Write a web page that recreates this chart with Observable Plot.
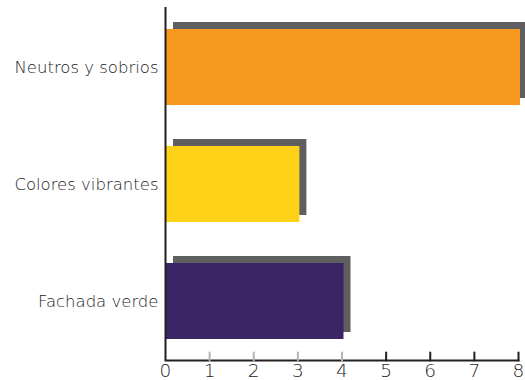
<!DOCTYPE html>
<html>
<head>
<meta charset="utf-8">
<script src="https://cdn.jsdelivr.net/npm/d3@7"></script>
<script src="https://cdn.jsdelivr.net/npm/@observablehq/plot@0.6"></script>
<style>
  html, body { margin: 0; padding: 0; background: #fff; }
</style>
</head>
<body>
<div id="chart"></div>
<script>
const categories = ["Neutros y sobrios", "Colores vibrantes", "Fachada verde"];
const values = [8, 3, 4];
const colors = ["#F7991F", "#FDD116", "#3B2566"];
const xTicks = [0, 1, 2, 3, 4, 5, 6, 7, 8];

const data = categories.map((c, i) => ({category: c, value: values[i], color: colors[i]}));
const tickMarks = xTicks.filter(d => d > 0);
const lineShape = {draw(context, l) { context.moveTo(0, 0); context.lineTo(0, -l); }};

const chart = Plot.plot({
  width: 525,
  height: 380,
  marginLeft: 165,
  marginRight: 7,
  marginTop: 7,
  marginBottom: 20,
  style: {fontFamily: "'DejaVu Sans', sans-serif", fontWeight: 200, background: "#fff"},
  x: {domain: [0, 8], axis: null},
  y: {domain: categories, paddingInner: 0.353, paddingOuter: 0.18, axis: null},
  color: {type: "identity"},
  marks: [
    Plot.barX(data, {x: "value", y: "category", fill: "#5F5E60", insetLeft: 1, insetRight: -2, dx: 7, dy: -7}),
    Plot.barX(data, {x: "value", y: "category", fill: "color", insetLeft: 1, insetRight: -2}),
    Plot.ruleX([0], {stroke: "#231F20", strokeWidth: 2}),
    Plot.frame({anchor: "bottom", stroke: "#231F20", strokeWidth: 2}),
    Plot.vector(tickMarks, {x: d => d, frameAnchor: "bottom", length: 8, rotate: 0, anchor: "start",
      shape: lineShape, stroke: d => d <= 4 ? "#B5B5B5" : "#231F20", strokeWidth: 2}),
    Plot.text(xTicks, {x: d => d, frameAnchor: "bottom", dy: 11, lineAnchor: "middle", text: d => String(d),
      fontSize: 18.5, fill: "#222222"}),
    Plot.axisY({tickSize: 0, tickPadding: 7, fontSize: 16.5, fill: "#222222", label: null})
  ]
});
document.getElementById("chart").appendChild(chart);
</script>
</body>
</html>
